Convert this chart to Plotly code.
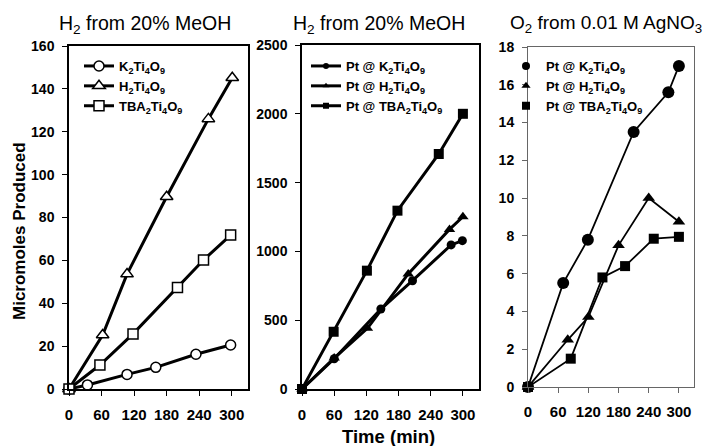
import plotly.graph_objects as go

W, H = 705, 446

# ---------------- data ----------------
# Panel 1: H2 from 20% MeOH (bare)
p1_t_K = [0, 34, 107, 160, 234, 298]
p1_v_K = [0, 1.9, 6.8, 10.1, 16.2, 20.5]
p1_t_H = [0, 62, 107, 180, 257, 301]
p1_v_H = [0, 25.2, 53.6, 89.7, 126, 145.2]
p1_t_TBA = [0, 57, 118, 200, 248, 298]
p1_v_TBA = [0, 11.2, 25.7, 47.3, 60.2, 71.8]

# Panel 2: H2 from 20% MeOH (Pt loaded)
p2_t_K = [0, 60, 147, 206, 278, 299]
p2_v_K = [0, 220, 581, 787, 1047, 1078]
p2_t_H = [0, 60, 122, 198, 275, 300]
p2_v_H = [0, 225, 441, 836, 1160, 1252]
p2_t_TBA = [0, 59, 121, 178, 255, 300]
p2_v_TBA = [0, 416, 860, 1296, 1708, 2000]

# Panel 3: O2 from 0.01 M AgNO3
p3_t_K = [0, 70, 119, 210, 279, 300]
p3_v_K = [0, 5.5, 7.8, 13.5, 15.6, 17.0]
p3_t_H = [0, 79, 120, 180, 240, 300]
p3_v_H = [0, 2.5, 3.7, 7.5, 10.0, 8.75]
p3_t_TBA = [0, 85, 148, 193, 250, 300]
p3_v_TBA = [0, 1.5, 5.8, 6.4, 7.85, 7.95]

x_ticks = [0, 60, 120, 180, 240, 300]

names_bare = ["K<sub>2</sub>Ti<sub>4</sub>O<sub>9</sub>",
              "H<sub>2</sub>Ti<sub>4</sub>O<sub>9</sub>",
              "TBA<sub>2</sub>Ti<sub>4</sub>O<sub>9</sub>"]
names_pt = ["Pt @ " + n for n in names_bare]

titles = ["H<sub>2</sub> from 20% MeOH",
          "H<sub>2</sub> from 20% MeOH",
          "O<sub>2</sub> from 0.01 M AgNO<sub>3</sub>"]

# ---------------- helpers ----------------
FONT = "Arial, Liberation Sans, sans-serif"

def px_x(p):
    return p / W

def px_y(p):
    return (H - p) / H

fig = go.Figure()

symbols = ["circle", "triangle-up", "square"]

# Panel 1 traces (open markers)
p1 = [(p1_t_K, p1_v_K), (p1_t_H, p1_v_H), (p1_t_TBA, p1_v_TBA)]
p1_sizes = [10, 11, 10]
for (t, v), name, sym, sz in zip(p1, names_bare, symbols, p1_sizes):
    fig.add_trace(go.Scatter(
        x=t, y=v, mode="lines+markers", name="<b>" + name + "</b>",
        line=dict(color="black", width=3),
        marker=dict(symbol=sym, size=sz, color="white",
                    line=dict(color="black", width=1.5)),
        cliponaxis=False, xaxis="x", yaxis="y", legend="legend"))

# Panel 2 traces (filled markers, thick lines)
p2 = [(p2_t_K, p2_v_K), (p2_t_H, p2_v_H), (p2_t_TBA, p2_v_TBA)]
p2_sizes = [9, 10, 10]
for (t, v), name, sym, sz in zip(p2, names_pt, symbols, p2_sizes):
    fig.add_trace(go.Scatter(
        x=t, y=v, mode="lines+markers", showlegend=False,
        line=dict(color="black", width=3),
        marker=dict(symbol=sym, size=sz, color="black"),
        cliponaxis=False, xaxis="x2", yaxis="y2"))
    fig.add_trace(go.Scatter(
        x=[None], y=[None], mode="lines+markers", name="<b>" + name + "</b>",
        line=dict(color="black", width=3),
        marker=dict(symbol=sym, size=6, color="black"),
        xaxis="x2", yaxis="y2", legend="legend2"))

# Panel 3 traces (filled markers, thinner lines)
p3 = [(p3_t_K, p3_v_K), (p3_t_H, p3_v_H), (p3_t_TBA, p3_v_TBA)]
p3_sizes = [12, 11, 10]
for (t, v), name, sym, sz in zip(p3, names_pt, symbols, p3_sizes):
    fig.add_trace(go.Scatter(
        x=t, y=v, mode="lines+markers", showlegend=False,
        line=dict(color="black", width=1.8),
        marker=dict(symbol=sym, size=sz, color="black"),
        cliponaxis=False, xaxis="x3", yaxis="y3"))
    fig.add_trace(go.Scatter(
        x=[None], y=[None], mode="markers", name="<b>" + name + "</b>",
        marker=dict(symbol=sym, size=8, color="black"),
        xaxis="x3", yaxis="y3", legend="legend3"))

# ---------------- axes ----------------
xtickfont = dict(family=FONT, size=15, color="black", weight="bold")
ytickfont = dict(family=FONT, size=14, color="black", weight="bold")

def xaxis(dom, anchor, lc, lw):
    return dict(domain=dom, anchor=anchor, range=[0, 330], tickvals=x_ticks,
                showgrid=False, zeroline=False, showline=True, mirror=True,
                linecolor=lc, linewidth=lw, ticks="outside", ticklen=5,
                tickwidth=1, tickcolor=lc, tickfont=xtickfont, fixedrange=True,
                ticklabelstandoff=6, automargin=False)

def yaxis(dom, anchor, rng, dt, lc, lw):
    return dict(domain=dom, anchor=anchor, range=rng, dtick=dt,
                showgrid=False, zeroline=False, showline=True, mirror=True,
                linecolor=lc, linewidth=lw, ticks="outside", ticklen=5,
                tickwidth=1, tickcolor=lc, tickfont=ytickfont, fixedrange=True,
                ticklabelstandoff=5, automargin=False)

legfont = dict(family=FONT, size=13, color="black")

fig.update_layout(
    width=W, height=H,
    margin=dict(l=0, r=0, t=0, b=0, pad=0, autoexpand=False),
    paper_bgcolor="white", plot_bgcolor="white",
    xaxis=xaxis([px_x(69), px_x(248)], "y", "black", 1.5),
    yaxis=yaxis([px_y(389), px_y(46)], "x", [0, 160], 20, "black", 1.5),
    xaxis2=xaxis([px_x(302), px_x(479)], "y2", "black", 1.5),
    yaxis2=yaxis([px_y(389), px_y(45)], "x2", [0, 2500], 500, "black", 1.5),
    xaxis3=xaxis([px_x(528), px_x(694)], "y3", "#666666", 1),
    yaxis3=yaxis([px_y(387), px_y(47)], "x3", [0, 18], 2, "#666666", 1),
    legend=dict(x=px_x(79), y=px_y(51), xanchor="left", yanchor="top",
                bgcolor="rgba(0,0,0,0)", font=legfont, itemsizing="trace"),
    legend2=dict(x=px_x(306), y=px_y(51), xanchor="left", yanchor="top",
                 bgcolor="rgba(0,0,0,0)", font=legfont, itemsizing="trace"),
    legend3=dict(x=px_x(506), y=px_y(51), xanchor="left", yanchor="top",
                 bgcolor="rgba(0,0,0,0)", font=legfont, itemsizing="trace"),
    showlegend=True,
)

# ---------------- text ----------------
title_x = [145, 379]
for tx, tt in zip(title_x, titles[:2]):
    fig.add_annotation(x=px_x(tx), y=px_y(24.5), xref="paper", yref="paper",
                       text=tt, showarrow=False, xanchor="center", yanchor="middle",
                       font=dict(family=FONT, size=19.5, color="black"))
fig.add_annotation(x=px_x(704), y=px_y(24.5), xref="paper", yref="paper",
                   text=titles[2], showarrow=False, xanchor="right", yanchor="middle",
                   font=dict(family=FONT, size=19, color="black"))

fig.add_annotation(x=px_x(19), y=px_y(231), xref="paper", yref="paper",
                   text="<b>Micromoles Produced</b>", textangle=-90, showarrow=False,
                   xanchor="center", yanchor="middle",
                   font=dict(family=FONT, size=17, color="black"))
fig.add_annotation(x=px_x(388), y=px_y(436), xref="paper", yref="paper",
                   text="<b>Time (min)</b>", showarrow=False,
                   xanchor="center", yanchor="middle",
                   font=dict(family=FONT, size=18.5, color="black"))

fig.write_html("out.html",
               config={"displayModeBar": False},
               post_script="document.body.style.margin='0px';document.body.style.padding='0px';")
